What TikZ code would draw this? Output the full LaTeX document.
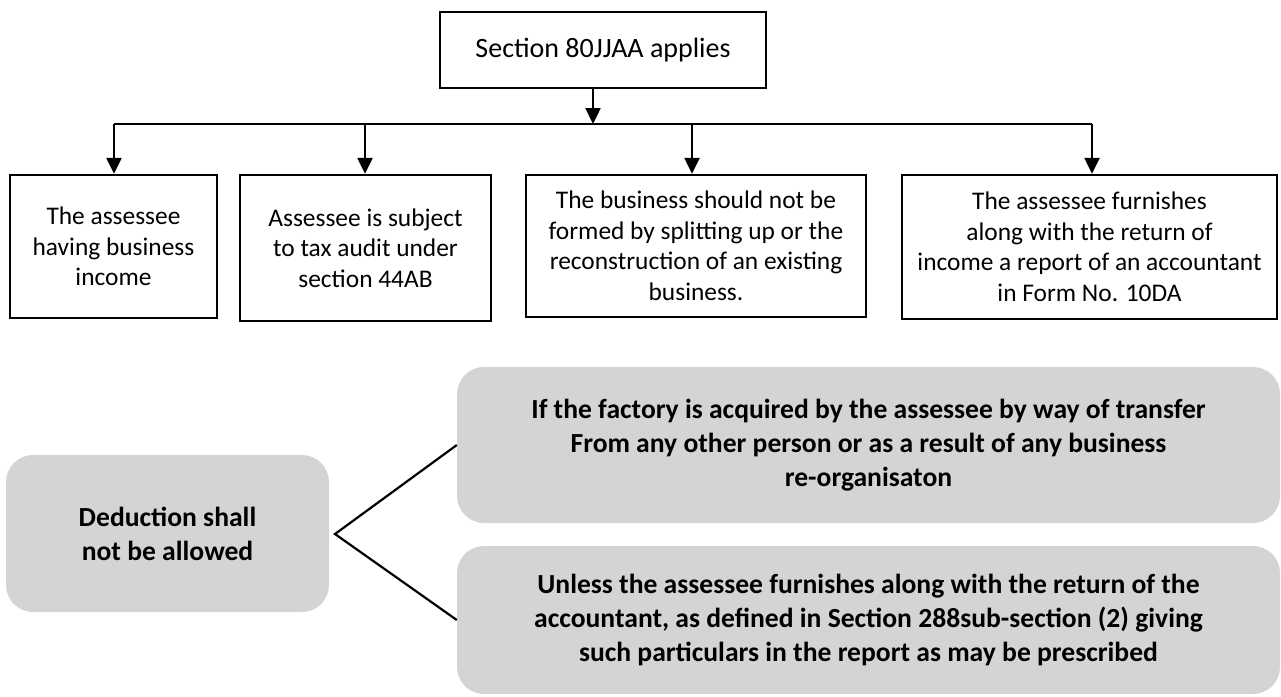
\documentclass[tikz,border=0pt]{standalone}
\usepackage{fontspec}
\setmainfont{Carlito}
\usetikzlibrary{arrows.meta}
\definecolor{boxgray}{RGB}{212,212,212}
\tikzset{
  line/.style={line width=2.4pt, draw=black},
  arr/.style={line width=2.4pt, draw=black, -{Triangle[width=15pt,length=16pt]}},
  plainbox/.style={draw=black, line width=2.4pt, fill=white, align=center, inner sep=0pt,
    font=\fontsize{25.4}{30.5}\selectfont},
  graybox/.style={fill=boxgray, rounded corners=27pt, align=center, inner sep=0pt,
    font=\fontsize{27.6}{34}\selectfont\bfseries},
  conn/.style={line width=2.2pt, draw=black}
}
\begin{document}
\begin{tikzpicture}[x=1pt,y=-1pt]
\useasboundingbox (0,0) rectangle (1281,696);
% top
\node[plainbox, minimum width=326pt, minimum height=76pt, font=\fontsize{28}{34}\selectfont] (top) at (603,50) {Section 80JJAA applies};
% boxes
\node[plainbox, minimum width=207pt, minimum height=143pt] (b1) at (113.5,246.5) {The assessee\\having business\\income};
\node[plainbox, minimum width=251pt, minimum height=146pt] (b2) at (365.5,248) {Assessee is subject\\to tax audit under\\section 44AB};
\node[plainbox, minimum width=340pt, minimum height=142pt] (b3) at (696,246) {The business should not be\\formed by splitting up or the\\reconstruction of an existing\\business.};
\node[plainbox, minimum width=375pt, minimum height=144pt] (b4) at (1089.5,247) {The assessee furnishes\\along with the return of\\income a report of an accountant\\in Form No. 10DA};
% bus
\coordinate (bus) at (593,124);
\coordinate (c1) at (114,124);
\coordinate (c2) at (365,124);
\coordinate (c3) at (692,124);
\coordinate (c4) at (1092,124);
\draw[arr] (top.south -| bus) -- (bus);
\draw[line] (c1) -- (c4);
\draw[arr] (c1) -- (c1 |- b1.north);
\draw[arr] (c2) -- (c2 |- b2.north);
\draw[arr] (c3) -- (c3 |- b3.north);
\draw[arr] (c4) -- (c4 |- b4.north);
% bottom
\node[graybox, minimum width=323pt, minimum height=157pt] (ded) at (167.5,533.5) {Deduction shall\\not be allowed};
\node[graybox, minimum width=823pt, minimum height=156pt] (ifb) at (868.5,445) {If the factory is acquired by the assessee by way of transfer\\From any other person or as a result of any business\\re-organisaton};
\node[graybox, minimum width=823pt, minimum height=148pt] (unl) at (868.5,620) {Unless the assessee furnishes along with the return of the\\accountant, as defined in Section 288sub-section (2) giving\\such particulars in the report as may be prescribed};
\coordinate (apex) at (335,534);
\draw[conn] (ifb.west) -- (apex) -- (unl.west);
\end{tikzpicture}
\end{document}
